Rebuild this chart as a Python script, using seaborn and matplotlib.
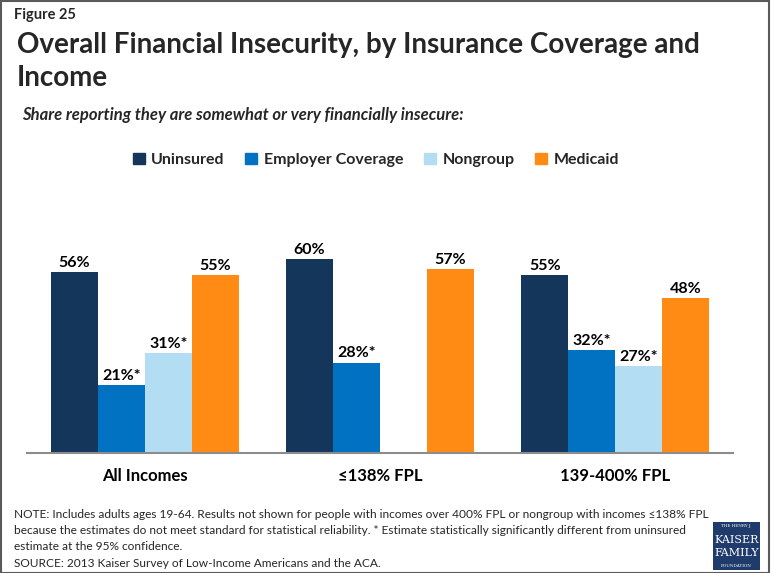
import matplotlib
matplotlib.use("Agg")
import matplotlib.pyplot as plt
from matplotlib.patches import Rectangle
import numpy as np
import pandas as pd
import seaborn as sns

# ---- data ----
groups = ["All Incomes", "\u2264138% FPL", "139-400% FPL"]
coverage = ["Uninsured", "Employer Coverage", "Nongroup", "Medicaid"]
uninsured = [56, 60, 55]
employer = [21, 28, 32]
nongroup = [31, np.nan, 27]
medicaid = [55, 57, 48]
# significance flag vs. uninsured estimate
uninsured_sig = [False, False, False]
employer_sig = [True, True, True]
nongroup_sig = [True, False, True]
medicaid_sig = [False, False, False]

colors = ["#15365B", "#0171C1", "#B3DDF2", "#FF8A14"]

rows = []
for series, vals, sig in zip(coverage,
                             [uninsured, employer, nongroup, medicaid],
                             [uninsured_sig, employer_sig, nongroup_sig, medicaid_sig]):
    for g, v, s in zip(groups, vals, sig):
        rows.append({"group": g, "coverage": series, "value": v, "sig": s})
df = pd.DataFrame(rows)

sns.set_theme(style="white")
plt.rcParams["font.family"] = ["Lato", "DejaVu Sans"]

W, H = 771, 573
fig = plt.figure(figsize=(W / 100, H / 100), dpi=100)

# axes placed in pixel terms: baseline at y=453, x from 27 to 733
ymax = 70
px_per_unit = 3.23
top_px = 453 - ymax * px_per_unit
ax = fig.add_axes([27 / W, (H - 453) / H, (733 - 27) / W, (453 - top_px) / H])

sns.barplot(data=df, x="group", y="value", hue="coverage", order=groups,
            hue_order=coverage, palette=colors, width=0.8, saturation=1,
            errorbar=None, legend=False, linewidth=0, ax=ax)

ax.set_xlim(-0.5, 2.5)
ax.set_ylim(0, ymax)
ax.set_xlabel("")
ax.set_ylabel("")
ax.set_yticks([])
for s in ["left", "right", "top"]:
    ax.spines[s].set_visible(False)
ax.spines["bottom"].set_color("#8C8C8C")
ax.spines["bottom"].set_linewidth(1.5)
ax.tick_params(axis="x", which="major", length=0, pad=11)
ax.set_xticks([-0.5, 0.5, 1.5, 2.5], minor=True)
ax.tick_params(axis="x", which="minor", length=5, width=1.5, color="#8C8C8C",
               direction="out")
for lbl in ax.get_xticklabels():
    lbl.set_fontsize(12)
    lbl.set_fontweight("bold")
    lbl.set_color("black")

# value labels above each bar, taken from the bar heights
sig_by_series = dict(zip(coverage, [uninsured_sig, employer_sig, nongroup_sig, medicaid_sig]))
for container, series in zip(ax.containers, coverage):
    for bar in container:
        if bar is None:
            continue
        h = bar.get_height()
        if np.isnan(h):
            continue
        cx = bar.get_x() + bar.get_width() / 2
        gi = int(round(cx))
        text = f"{h:.0f}%" + ("*" if sig_by_series[series][gi] else "")
        ax.annotate(text, (cx, h), xytext=(0, 1.5), textcoords="offset points",
                    ha="center", va="bottom", fontsize=11.5, fontweight="bold",
                    color="black")

# legend
handles = [Rectangle((0, 0), 1, 1, color=c) for c in colors]
fig.legend(handles, coverage, loc="center", bbox_to_anchor=(376 / W, 1 - 160 / H),
           ncol=4, frameon=False, prop={"size": 11.5, "weight": "bold"},
           handlelength=0.75, handleheight=0.75, handletextpad=0.4,
           columnspacing=1.3)

# titles
fig.text(14 / W, 1 - 15 / H, "Figure 25", fontsize=10.5, fontweight="bold",
         va="center", ha="left")
fig.text(17 / W, 1 - 45 / H, "Overall Financial Insecurity, by Insurance Coverage and",
         fontsize=20, fontweight="bold", va="center", ha="left")
fig.text(17 / W, 1 - 78 / H, "Income", fontsize=20, fontweight="bold",
         va="center", ha="left")
fig.text(22 / W, 1 - 115 / H,
         "Share reporting they are somewhat or very financially insecure:",
         fontsize=12, fontweight="bold", style="italic", va="center", ha="left")

# notes
notes = [
    "NOTE: Includes adults ages 19-64. Results not shown for people with incomes over 400% FPL or nongroup with incomes \u2264138% FPL",
    "because the estimates do not meet standard for statistical reliability. * Estimate statistically significantly different from uninsured",
    "estimate at the 95% confidence.",
    "SOURCE: 2013 Kaiser Survey of Low-Income Americans and the ACA.",
]
for i, line in enumerate(notes):
    fig.text(14 / W, 1 - (514 + i * 16.5) / H, line, fontsize=8.6,
             va="center", ha="left")

# foundation logo block
logo = Rectangle((713 / W, 1 - 570 / H), 47 / W, 48 / H, transform=fig.transFigure,
                 facecolor="#1F3B6B", edgecolor="none")
fig.add_artist(logo)
fig.text(736.5 / W, 1 - 526 / H, "THE HENRY J.", fontsize=3, color="white",
         ha="center", va="center", family="DejaVu Serif")
fig.text(736.5 / W, 1 - 540 / H, "KAISER", fontsize=8, color="white",
         ha="center", va="center", family="DejaVu Serif")
fig.text(736.5 / W, 1 - 553 / H, "FAMILY", fontsize=8, color="white",
         ha="center", va="center", family="DejaVu Serif")
fig.text(736.5 / W, 1 - 566 / H, "FOUNDATION", fontsize=3, color="white",
         ha="center", va="center", family="DejaVu Serif")

# outer frame
frame = Rectangle((0.5 / W, 0.5 / H), (W - 3) / W, (H - 1.5) / H,
                  transform=fig.transFigure, fill=False, edgecolor="#5A5A5A",
                  linewidth=1.5)
fig.add_artist(frame)

fig.savefig("out.png", dpi=100)
